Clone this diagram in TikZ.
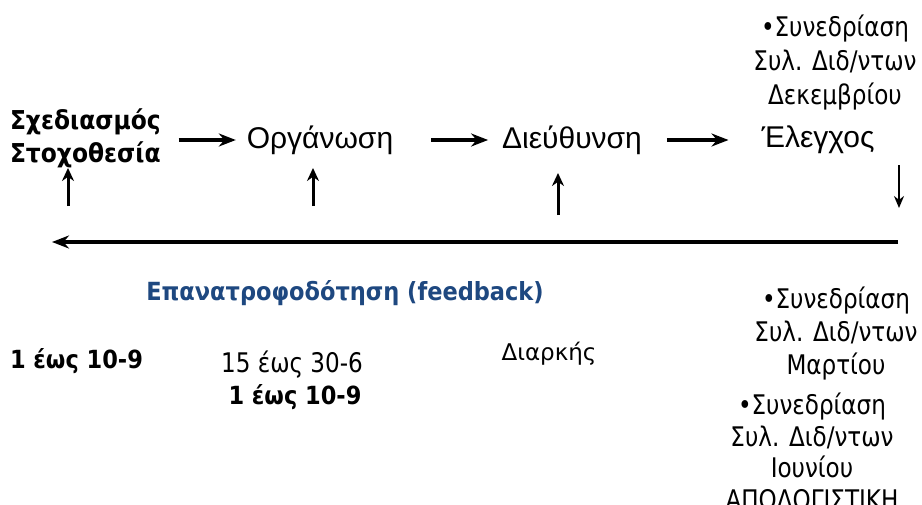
\documentclass[tikz,border=0pt]{standalone}
\usepackage{fontspec}
\setmainfont{DejaVu Sans}
\newfontfamily\flowfont{Liberation Sans}
\newfontfamily\narrowfont{DejaVu Sans Condensed}[FakeStretch=0.95]
\newfontfamily\narrowbold{DejaVu Sans Condensed Bold}
\usetikzlibrary{arrows.meta}
\definecolor{fbblue}{RGB}{30,72,128}
\tikzset{
  x=1pt, y=1pt,
  every node/.style={inner sep=0pt, outer sep=0pt},
  stage/.style={font=\flowfont\fontsize{30}{34}\selectfont},
  % multi-line nodes are placed by the baseline of their last line
  note/.style={anchor=base, align=center, font=\narrowfont\fontsize{27}{33}\selectfont},
  flow/.style={line width=3.4pt, -{Stealth[length=17pt, width=13pt]}},
  tick/.style={line width=3pt, -{Stealth[length=13pt, width=12pt]}},
}
\begin{document}
\begin{tikzpicture}
\useasboundingbox (0,0) rectangle (922,-504);

% planning stages
\node[anchor=base west, align=left, font=\narrowbold\fontsize{26}{33}\selectfont]
  (plan) at (10,-162) {Σχεδιασμός\\Στοχοθεσία};
\node[stage] (org) at (320,-140) {Οργάνωση};
\node[stage] (dir) at (572,-140) {Διεύθυνση};
\node[stage] (ctl) at (818,-140) {Έλεγχος};

\draw[flow, shorten <=18pt, shorten >=11pt] (plan.east |- org.west) -- (org.west);
\draw[flow, shorten <=38pt, shorten >=14pt] (org.east) -- (dir.west);
\draw[flow, shorten <=25pt, shorten >=33pt] (dir.east) -- (ctl.west);

% inputs from below and feedback loop
\coordinate (u1a) at (68,-206);  \coordinate (u1b) at (68,-168);
\coordinate (u2a) at (313,-206); \coordinate (u2b) at (313,-168);
\coordinate (u3a) at (558,-215); \coordinate (u3b) at (558,-173);
\coordinate (dwa) at (899,-165); \coordinate (dwb) at (899,-208);
\coordinate (fbr) at (898,-242); \coordinate (fbl) at (52,-242);
\draw[tick] (u1a) -- (u1b);
\draw[tick] (u2a) -- (u2b);
\draw[tick] (u3a) -- (u3b);
\draw[line width=2.4pt, -{Stealth[length=12pt, width=10pt]}] (dwa) -- (dwb);
\draw[flow] (fbr) -- (fbl);

\node[anchor=base, font=\narrowbold\fontsize{25}{29}\selectfont, text=fbblue]
  (fb) at (345,-300) {Επανατροφοδότηση (feedback)};

% meetings
\node[note, font=\narrowfont\fontsize{27}{34}\selectfont]
  (m1) at (835,-104) {•Συνεδρίαση\\Συλ. Διδ/ντων\\Δεκεμβρίου};
\node[note] (m2) at (836,-374) {•Συνεδρίαση\\Συλ. Διδ/ντων\\Μαρτίου};
\node[note, font=\narrowfont\fontsize{27}{31.5}\selectfont]
  (m3) at (812,-509) {•Συνεδρίαση\\Συλ. Διδ/ντων\\Ιουνίου\\ΑΠΟΛΟΓΙΣΤΙΚΗ};

% dates
\node[anchor=base west, font=\narrowbold\fontsize{25}{29}\selectfont]
  (d1) at (10,-368) {1 έως 10-9};
\node[anchor=base, font=\narrowfont\fontsize{27}{31}\selectfont] (d2) at (292,-372) {15 έως 30-6};
\node[anchor=base, font=\narrowbold\fontsize{25}{29}\selectfont] (d3) at (295,-404) {1 έως 10-9};
\node[anchor=base, font=\fontsize{23}{27}\selectfont] (d4) at (549,-360) {Διαρκής};
\end{tikzpicture}
\end{document}
